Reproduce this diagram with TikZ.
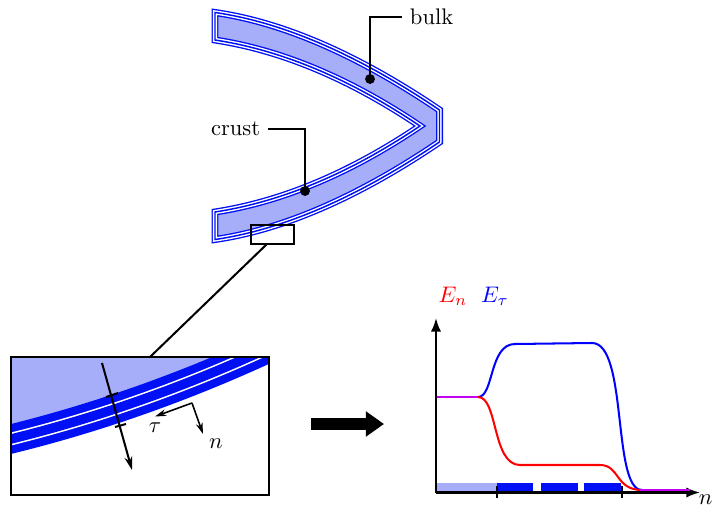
\documentclass[tikz,border=0pt]{standalone}
\usetikzlibrary{arrows.meta}
\definecolor{bulkfill}{RGB}{166,174,250}
\definecolor{crustblue}{RGB}{0,16,245}
\definecolor{mixline}{RGB}{195,0,240}

\begin{document}
\begin{tikzpicture}[x=0.0156cm, y=-0.0156cm,
	leader/.style={line width=0.9pt},
	dot/.style={circle, fill=black, inner sep=0pt, minimum size=4.4pt},
	crust/.style={fill=bulkfill,
		postaction={draw=crustblue, line width=3.1pt},
		postaction={draw=white, line width=1.9pt},
		postaction={draw=crustblue, line width=0.65pt}},
	crustband/.style={draw=crustblue, line width=12.9pt,
		postaction={draw=white, line width=5.6pt},
		postaction={draw=crustblue, line width=4.2pt}},
	curve/.style={line width=0.9pt},
	axis/.style={line width=0.9pt, -{Latex[length=6pt,width=4.5pt]}}]
	\useasboundingbox (0,0) rectangle (714,512);

	% the body
	\path[crust] (215,12.5) .. controls (284,22.5) and (359,55.5) .. (439.5,110)
		-- (439.5,142) .. controls (359,196.5) and (284,229.5) .. (215,239.5)
		-- (215,212) .. controls (280,202) and (348,174.5) .. (420,126)
		.. controls (348,77.5) and (280,50) .. (215,40) -- cycle;

	\node[dot] (bulkdot) at (370,79) {};
	\node[anchor=west] (bulk) at (402,17) {bulk};
	\draw[leader] (bulkdot.center) |- (bulk.west);

	\node[dot] (crustdot) at (305,191) {};
	\node[anchor=east] (crustlab) at (268,129) {crust};
	\draw[leader] (crustlab.east) -| (crustdot.center);

	% zoom
	\draw[leader] (251,225) rectangle (294,244);
	\coordinate (zoomfoot) at (267,244);
	\coordinate (insettop) at (150,357);
	\draw[leader] (zoomfoot) -- (insettop);

	\begin{scope}
		\clip (11,357) rectangle (269,495);
		\fill[bulkfill] (-10,444) .. controls (90,421) and (190,386) .. (290,338)
			-- (290,300) -- (-10,300) -- cycle;
		\path[crustband] (-10,444) .. controls (90,421) and (190,386) .. (290,338);
	\end{scope}
	\draw[leader] (11,357) rectangle (269,495);

	\coordinate (probetop) at (102,363);
	\coordinate (probeend) at (132,470);
	\draw[line width=0.9pt, -{Stealth[length=6pt,width=3.5pt]}] (probetop) -- (probeend);
	\draw[line width=0.9pt] (106,397) -- (118,393);
	\draw[line width=0.9pt] (115,427) -- (126,424);

	\coordinate (frame) at (192,403);
	\node (taulab) at (155,428) {$\tau$};
	\node (nlab) at (216,444) {$n$};
	\draw[line width=0.7pt, -{Stealth[length=5pt,width=3pt]}] (frame) -- (155,416.5);
	\draw[line width=0.7pt, -{Stealth[length=5pt,width=3pt]}] (frame) -- (203,434);

	% big arrow
	\coordinate (gofrom) at (311,424);
	\coordinate (goto) at (384,424);
	\draw[line width=5.3pt, -{Triangle[length=8pt,width=10.7pt]}] (gofrom) -- (goto);

	% profile
	\fill[bulkfill] (437,483) rectangle (497,491);
	\foreach \a/\b in {497/533, 541/578, 584/621}
		\fill[crustblue] (\a,483) rectangle (\b,491);
	\draw[axis] (436,493) -- (436,318);
	\draw[axis] (435.5,492.5) -- (700,492.5);
	\foreach \t in {497,622}
		\draw[line width=0.9pt] (\t,486) -- (\t,498);

	\draw[curve, blue] (478,397) .. controls (494,397) and (489,344) .. (515,344)
		-- (592,343) .. controls (628,343) and (612,490) .. (642,490);
	\draw[curve, red] (478,397) .. controls (498,397) and (492,465) .. (520,465)
		-- (600,465) .. controls (620,465) and (615,490) .. (642,490);
	\draw[curve, mixline] (437,397) -- (478,397);
	\draw[curve, mixline] (640,490) -- (690,490);

	\node[red] (enlab) at (453,296) {$E_n$};
	\node[blue] (etlab) at (495,296) {$E_\tau$};
	\node[anchor=east, inner sep=0.5pt] (xlab) at (714,500) {$n$};
\end{tikzpicture}
\end{document}
